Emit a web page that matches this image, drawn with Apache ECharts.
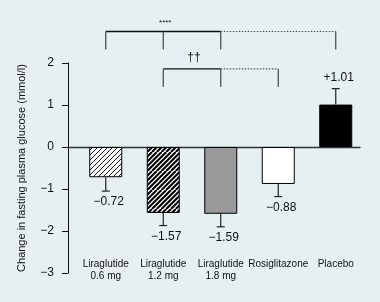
<!DOCTYPE html>
<html>
<head>
<meta charset="utf-8">
<script src="https://cdn.jsdelivr.net/npm/echarts@6/dist/echarts.min.js"></script>
<style>
  html, body { margin: 0; padding: 0; background: #e6eff2; }
  #chart { width: 380px; height: 302px; }
</style>
</head>
<body>
<div id="chart"></div>
<script>
// data
const categories = ['Liraglutide\n0.6 mg', 'Liraglutide\n1.2 mg', 'Liraglutide\n1.8 mg', 'Rosiglitazone', 'Placebo']
const changeValues = [-0.72, -1.57, -1.59, -0.88, 1.01]
const errorValues = [0.33, 0.3, 0.31, 0.3, 0.38]
const valueLabels = ['\u22120.72', '\u22121.57', '\u22121.59', '\u22120.88', '+1.01']
const yTicks = [-3, -2, -1, 0, 1, 2]

// significance brackets: [from, solid until, to]
const bracketSpans = [[0, 2, 4], [1, 2, 3]]
const bracketTicks = [[0, 1, 2, 4], [1, 2, 3]]
const bracketLevels = [2.75, 1.86]
const bracketLabels = ['****', '\u2020\u2020']

const FONT = 'Liberation Sans, Arial, sans-serif'

// diagonal hatch tile, several periods wide so the seams stay clean
function hatch(period, lineW, bg) {
  const size = period * 4
  const c = document.createElement('canvas')
  c.width = size
  c.height = size
  const ctx = c.getContext('2d')
  ctx.fillStyle = bg
  ctx.fillRect(0, 0, size, size)
  ctx.strokeStyle = '#000'
  ctx.lineWidth = lineW
  ctx.beginPath()
  for (let k = -5; k <= 5; k++) {
    ctx.moveTo(k * period, size)
    ctx.lineTo(k * period + size, 0)
  }
  ctx.stroke()
  return c
}

const fills = [
  { image: hatch(5, 0.9, '#f7f9fa'), repeat: 'repeat' },
  { image: hatch(4.75, 2.1, '#ffffff'), repeat: 'repeat' },
  '#999999',
  '#ffffff',
  '#000000'
]

const barData = changeValues.map((v, i) => ({
  value: v,
  itemStyle: { color: fills[i], borderColor: '#000', borderWidth: 1 }
}))

const errData = changeValues.map((v, i) => [i, v, errorValues[i]])

const myChart = echarts.init(document.getElementById('chart'))
myChart.setOption({
  backgroundColor: '#e6eff2',
  animation: false,
  textStyle: { fontFamily: FONT },
  grid: [
    { left: 77, right: 15.5, top: 63, bottom: 29 },
    { left: 68, right: 20, top: 63, bottom: 29 }
  ],
  xAxis: [
    {
      type: 'category',
      gridIndex: 0,
      data: categories,
      axisLine: { show: false },
      axisTick: { show: false },
      axisLabel: {
        margin: -15,
        fontSize: 10,
        lineHeight: 12,
        color: '#111',
        fontFamily: FONT,
        interval: 0
      }
    },
    {
      type: 'value',
      gridIndex: 1,
      min: 0,
      max: 1,
      axisLine: { show: true, onZero: true, lineStyle: { color: '#333', width: 1.3 } },
      axisTick: { show: false },
      axisLabel: { show: false },
      splitLine: { show: false }
    }
  ],
  yAxis: [
    {
      type: 'value',
      gridIndex: 0,
      min: -3,
      max: 2,
      interval: 1,
      show: false
    },
    {
      type: 'value',
      gridIndex: 1,
      min: -3,
      max: 2,
      interval: 1,
      name: 'Change in fasting plasma glucose (mmol/l)',
      nameLocation: 'middle',
      nameGap: 41,
      nameTextStyle: { fontSize: 11, color: '#111', fontFamily: FONT },
      axisLine: { show: true, lineStyle: { color: '#111', width: 1 } },
      axisTick: { show: true, length: 6, lineStyle: { color: '#111' } },
      axisLabel: {
        fontSize: 12,
        color: '#111',
        margin: 14,
        fontFamily: FONT,
        formatter: (v) => (yTicks.includes(v) ? String(v).replace('-', '\u2212') : '')
      },
      splitLine: { show: false }
    }
  ],
  series: [
    {
      type: 'bar',
      xAxisIndex: 0,
      yAxisIndex: 0,
      barWidth: 33,
      data: barData,
      z: 3
    },
    {
      type: 'custom',
      xAxisIndex: 0,
      yAxisIndex: 0,
      z: 4,
      clip: false,
      data: errData,
      renderItem(params, api) {
        const i = api.value(0)
        const v = api.value(1)
        const e = api.value(2)
        const sign = v < 0 ? -1 : 1
        const p0 = api.coord([i, v])
        const p1 = api.coord([i, v + sign * e])
        const style = { stroke: '#222', lineWidth: 1.2 }
        return {
          type: 'group',
          children: [
            { type: 'line', shape: { x1: p0[0], y1: p0[1], x2: p1[0], y2: p1[1] }, style },
            { type: 'line', shape: { x1: p1[0] - 4, y1: p1[1], x2: p1[0] + 4, y2: p1[1] }, style },
            {
              type: 'text',
              x: p1[0] + 3,
              y: p1[1] - sign * 11,
              style: {
                text: valueLabels[params.dataIndex],
                fill: '#111',
                font: '12px ' + FONT,
                align: 'center',
                verticalAlign: 'middle'
              }
            }
          ]
        }
      }
    },
    {
      type: 'custom',
      xAxisIndex: 0,
      yAxisIndex: 0,
      z: 4,
      clip: false,
      data: bracketSpans.map((s, k) => [s[0], s[1], s[2], bracketLevels[k]]),
      renderItem(params, api) {
        const k = params.dataIndex
        const lvl = api.value(3)
        const a = api.coord([api.value(0), lvl])
        const b = api.coord([api.value(1), lvl])
        const c = api.coord([api.value(2), lvl])
        const drop = api.coord([0, lvl - 0.43])[1] - a[1]
        const children = [
          { type: 'line', shape: { x1: a[0], y1: a[1], x2: b[0], y2: b[1] }, style: { stroke: '#111', lineWidth: 1.3 } },
          { type: 'line', shape: { x1: b[0], y1: b[1], x2: c[0], y2: c[1] }, style: { stroke: '#555', lineWidth: 1.2, lineDash: [1.5, 1.5] } }
        ]
        bracketTicks[k].forEach((t) => {
          const p = api.coord([t, lvl])
          children.push({
            type: 'line',
            shape: { x1: p[0], y1: p[1], x2: p[0], y2: p[1] + drop },
            style: { stroke: '#444', lineWidth: 1.2 }
          })
        })
        children.push({
          type: 'text',
          x: (a[0] + b[0]) / 2 + 2,
          y: a[1] - (k === 0 ? 9 : 11),
          style: {
            text: bracketLabels[k],
            fill: '#111',
            font: (k === 0 ? '8px ' : '12px ') + FONT,
            align: 'center',
            verticalAlign: 'middle'
          }
        })
        return { type: 'group', children }
      }
    }
  ]
})
</script>
</body>
</html>
